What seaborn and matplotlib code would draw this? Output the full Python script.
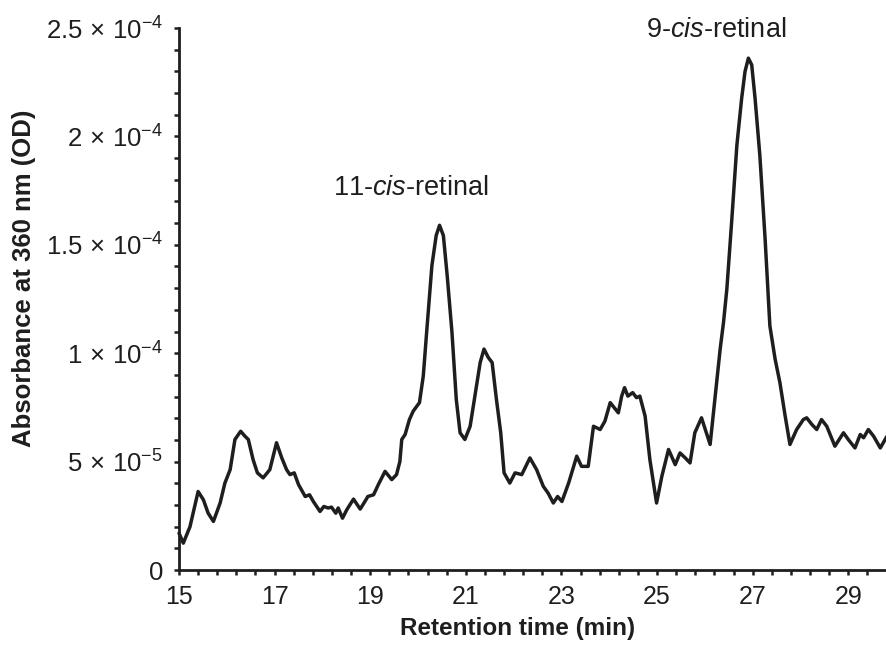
import numpy as np
import pandas as pd
import matplotlib
matplotlib.use("Agg")
import matplotlib.pyplot as plt
from matplotlib.ticker import FixedLocator, FixedFormatter
import seaborn as sns

# Retention time (min)
retention_time = [
    15.00, 15.09, 15.23, 15.40, 15.51, 15.61, 15.72, 15.86, 15.96, 16.07,
    16.17, 16.29, 16.38, 16.45, 16.55, 16.64, 16.76, 16.90, 17.04, 17.15,
    17.25, 17.32, 17.41, 17.50, 17.64, 17.73, 17.81, 17.95, 18.03, 18.12,
    18.19, 18.28, 18.33, 18.42, 18.51, 18.65, 18.79, 18.90, 18.95, 19.07,
    19.17, 19.31, 19.45, 19.55, 19.62, 19.66, 19.73, 19.82, 19.90, 20.03,
    20.11, 20.18, 20.29, 20.38, 20.45, 20.53, 20.61, 20.71, 20.80, 20.88,
    20.98, 21.09, 21.19, 21.30, 21.38, 21.47, 21.55, 21.64, 21.73, 21.80,
    21.92, 22.03, 22.17, 22.34, 22.48, 22.62, 22.72, 22.83, 22.92, 23.01,
    23.15, 23.32, 23.42, 23.56, 23.67, 23.81, 23.91, 24.02, 24.19, 24.26,
    24.32, 24.39, 24.49, 24.57, 24.64, 24.75, 24.85, 24.99, 25.10, 25.24,
    25.38, 25.48, 25.59, 25.69, 25.79, 25.93, 26.11, 26.21, 26.32, 26.39,
    26.46, 26.56, 26.67, 26.77, 26.84, 26.91, 26.98, 27.05, 27.15, 27.26,
    27.36, 27.47, 27.57, 27.68, 27.78, 27.92, 28.06, 28.13, 28.24, 28.34,
    28.44, 28.55, 28.62, 28.72, 28.90, 29.00, 29.14, 29.25, 29.32, 29.42,
    29.53, 29.67, 29.81,
]

# Absorbance at 360 nm (OD), in units of 1e-5
absorbance_e5 = [
    1.70, 1.24, 2.00, 3.62, 3.24, 2.62, 2.24, 3.09, 4.01, 4.63,
    6.02, 6.40, 6.17, 6.02, 5.09, 4.48, 4.25, 4.63, 5.87, 5.17,
    4.63, 4.40, 4.48, 3.94, 3.39, 3.47, 3.16, 2.70, 2.93, 2.86,
    2.90, 2.62, 2.86, 2.39, 2.78, 3.27, 2.81, 3.20, 3.39, 3.47,
    3.94, 4.55, 4.17, 4.40, 5.00, 6.02, 6.25, 6.94, 7.33, 7.72,
    8.95, 10.96, 14.04, 15.43, 15.90, 15.43, 13.58, 10.96, 7.87, 6.33,
    6.02, 6.63, 8.02, 9.57, 10.19, 9.80, 9.57, 7.87, 6.33, 4.48,
    4.01, 4.48, 4.40, 5.17, 4.63, 3.86, 3.55, 3.09, 3.39, 3.16,
    4.01, 5.25, 4.78, 4.78, 6.63, 6.48, 6.87, 7.72, 7.25, 8.02,
    8.41, 8.02, 8.18, 7.95, 8.02, 7.10, 5.09, 3.09, 4.32, 5.56,
    4.86, 5.40, 5.17, 4.94, 6.33, 7.02, 5.79, 7.87, 10.19, 11.42,
    12.96, 16.05, 19.60, 21.76, 22.99, 23.61, 23.30, 21.76, 19.13, 15.28,
    11.26, 9.72, 8.64, 7.10, 5.79, 6.48, 6.94, 7.02, 6.71, 6.48,
    6.94, 6.63, 6.25, 5.71, 6.33, 6.02, 5.63, 6.25, 6.10, 6.48,
    6.17, 5.63, 6.17,
]

x_tick_labels = ["15", "17", "19", "21", "23", "25", "27", "29"]
x_tick_values = [15, 17, 19, 21, 23, 25, 27, 29]
y_tick_values = [0, 5e-5, 1e-4, 1.5e-4, 2e-4, 2.5e-4]
y_tick_labels = ["0",
                 r"5$\,\times\,$10$^{-5}$",
                 r"1$\,\times\,$10$^{-4}$",
                 r"1.5$\,\times\,$10$^{-4}$",
                 r"2$\,\times\,$10$^{-4}$",
                 r"2.5$\,\times\,$10$^{-4}$"]

peak_labels = [r"11-$\mathit{cis}$-retinal", r"9-$\mathit{cis}$-retinal"]
peak_label_pos = [(19.85, 17.6e-5), (26.23, 24.9e-5)]

df = pd.DataFrame({
    "time": retention_time,
    "absorbance": np.array(absorbance_e5) * 1e-5,
})

sns.set_theme(style="ticks")
plt.rcParams["font.family"] = ["Liberation Sans", "DejaVu Sans"]
plt.rcParams["mathtext.fontset"] = "custom"
plt.rcParams["mathtext.rm"] = "Liberation Sans"
plt.rcParams["mathtext.it"] = "Liberation Sans:italic"
plt.rcParams["mathtext.bf"] = "Liberation Sans:bold"

ink = "#1e1e1e"

fig = plt.figure(figsize=(8.87, 6.48), dpi=100)
ax = fig.add_axes([179 / 887, 1 - 570 / 648, 1 - 179 / 887, (570 - 28) / 648])

sns.lineplot(data=df, x="time", y="absorbance", ax=ax, color=ink,
             linewidth=2.5, clip_on=False, solid_joinstyle="round",
             solid_capstyle="round")

ax.set_xlim(15, 29.81)
ax.set_ylim(0, 2.5e-4)

ax.xaxis.set_major_locator(FixedLocator(x_tick_values))
ax.xaxis.set_major_formatter(FixedFormatter(x_tick_labels))
ax.xaxis.set_minor_locator(FixedLocator(np.arange(15, 29.85, 0.4)))
ax.yaxis.set_major_locator(FixedLocator(y_tick_values))
ax.yaxis.set_major_formatter(FixedFormatter(y_tick_labels))
ax.yaxis.set_minor_locator(FixedLocator(np.arange(0, 2.55e-4, 1e-5)))

for side in ["top", "right"]:
    ax.spines[side].set_visible(False)
for side in ["left", "bottom"]:
    ax.spines[side].set_linewidth(2.0)
    ax.spines[side].set_color(ink)

ax.tick_params(axis="both", which="both", direction="out", length=3.5,
               width=1.8, color=ink, labelcolor=ink)
ax.tick_params(axis="x", which="major", pad=7, labelsize=18)
ax.tick_params(axis="y", which="major", pad=8, labelsize=18.5)

ax.set_xlabel("Retention time (min)", fontsize=17.5, fontweight="bold",
              color=ink)
ax.set_ylabel("Absorbance at 360 nm (OD)", fontsize=18.5, fontweight="bold",
              color=ink)
ax.xaxis.set_label_coords((518 - 179) / 708, (570 - 617) / 542)
ax.xaxis.label.set_va("top")
ax.yaxis.set_label_coords((36 - 179) / 708, (570 - 278) / 542)

for txt, (px, py) in zip(peak_labels, peak_label_pos):
    ax.text(px, py, txt, fontsize=19.5, ha="center", va="center",
            color=ink, clip_on=False)

ax.set_facecolor("white")
fig.patch.set_facecolor("white")
fig.savefig("out.png", dpi=100)
